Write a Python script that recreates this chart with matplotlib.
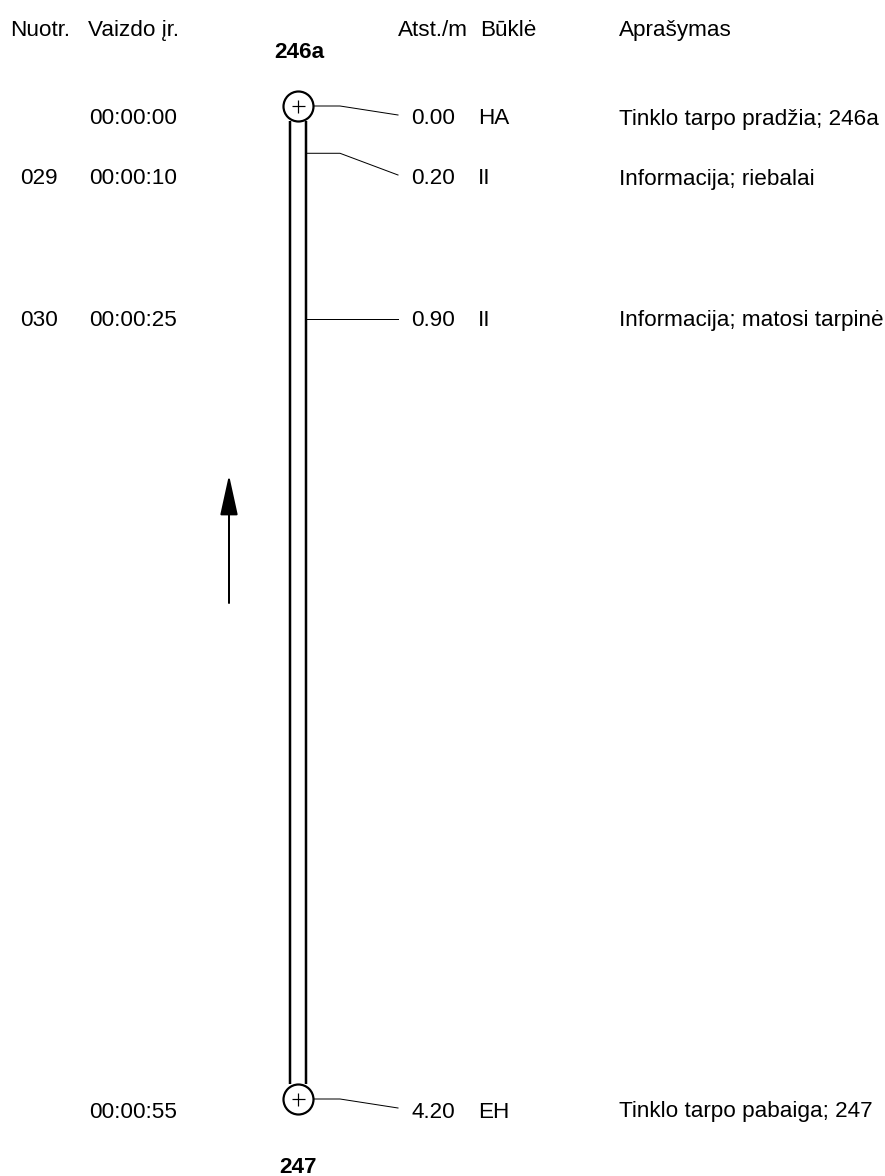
import matplotlib
matplotlib.use("Agg")
import matplotlib.pyplot as plt

# ---------------- data ----------------
headers = ["Nuotr.", "Vaizdo įr.", "Atst./m", "Būklė", "Aprašymas"]
photos = ["", "029", "030", ""]
times = ["00:00:00", "00:00:10", "00:00:25", "00:00:55"]
distances = [0.00, 0.20, 0.90, 4.20]
codes = ["HA", "II", "II", "EH"]
descriptions = [
    "Tinklo tarpo pradžia; 246a",
    "Informacija; riebalai",
    "Informacija; matosi tarpinė",
    "Tinklo tarpo pabaiga; 247",
]
start_node = "246a"
end_node = "247"
pipe_length = 4.20

# ---------------- layout (pixels) ----------------
W, H = 885, 1176
Y0_PX = 106.0          # pixel row of 0 m
PX_PER_M = (1099.0 - 106.0) / pipe_length

def px2m(py):
    return (py - Y0_PX) / PX_PER_M

def m2px(m):
    return Y0_PX + m * PX_PER_M

fig = plt.figure(figsize=(W / 100, H / 100), dpi=100)
ax = fig.add_axes([0, 0, 1, 1])
ax.set_xlim(0, W)
ax.set_ylim(px2m(H), px2m(0))
ax.axis("off")

FONT = "Liberation Sans"
FS = 16.2
PT = 72 / 100  # points per pixel

# column x positions
col_hdr_x = [10, 88, 398, 480, 619]
col_photo_x = 20
col_time_x = 89
col_dist_x = 411
col_code_x = 478
col_desc_x = 619

# headers
for txt, x in zip(headers, col_hdr_x):
    ax.text(x, px2m(36), txt, fontsize=FS, family=FONT, ha="left", va="baseline")

# pipe geometry
pipe_cx = 298
pipe_half = 8
circle_r = 15
ytop = px2m(Y0_PX + circle_r)
ybot = pipe_length - circle_r / PX_PER_M
for sx in (pipe_cx - pipe_half, pipe_cx + pipe_half):
    ax.plot([sx, sx], [ytop, ybot], color="black", lw=2.5 * PT, solid_capstyle="butt")

# manholes
for d in (0.0, pipe_length):
    ax.plot([pipe_cx], [d], marker="o", markersize=2 * circle_r * PT, mfc="white",
            mec="black", mew=2.2 * PT, zorder=3)
    ax.plot([pipe_cx], [d], marker="+", markersize=13 * PT, mec="black", mew=1.2 * PT, zorder=4)

ax.text(pipe_cx + 1, px2m(58), start_node, fontsize=FS, family=FONT, weight="bold",
        ha="center", va="baseline")
ax.text(pipe_cx, px2m(1173), end_node, fontsize=FS, family=FONT, weight="bold",
        ha="center", va="baseline")

# label rows: keep a minimum spacing, nodes get a small offset
MIN_GAP = 60
NODE_OFF = 11
label_py = []
prev = -1e9
for i, d in enumerate(distances):
    py = m2px(d)
    is_node = (i == 0 or i == len(distances) - 1)
    if is_node:
        py += NODE_OFF
    py = max(py, prev + MIN_GAP)
    label_py.append(py)
    prev = py

for i, d in enumerate(distances):
    is_node = (i == 0 or i == len(distances) - 1)
    start_x = pipe_cx + (circle_r if is_node else pipe_half)
    ly = label_py[i]
    end_py = ly - 2 if abs(ly - m2px(d)) > 3 else m2px(d)
    ax.plot([start_x, 340, 398], [d, d, px2m(end_py)], color="black", lw=1 * PT, zorder=2)
    base = px2m(ly + 7.5)
    if photos[i]:
        ax.text(col_photo_x, base, photos[i], fontsize=FS, family=FONT, va="baseline")
    ax.text(col_time_x, base, times[i], fontsize=FS, family=FONT, va="baseline")
    ax.text(col_dist_x, base, f"{d:.2f}", fontsize=FS, family=FONT, va="baseline")
    ax.text(col_code_x, base, codes[i], fontsize=FS, family=FONT, va="baseline")
    ax.text(col_desc_x, base, descriptions[i], fontsize=FS, family=FONT, va="baseline")

# direction arrow
ax.annotate("", xy=(229, px2m(475)), xytext=(229, px2m(603)),
            arrowprops=dict(arrowstyle="-|>,head_length=25,head_width=5.5", mutation_scale=1,
                            color="black", lw=2 * PT, shrinkA=0, shrinkB=0))

fig.savefig("out.png", dpi=100, facecolor="white")
